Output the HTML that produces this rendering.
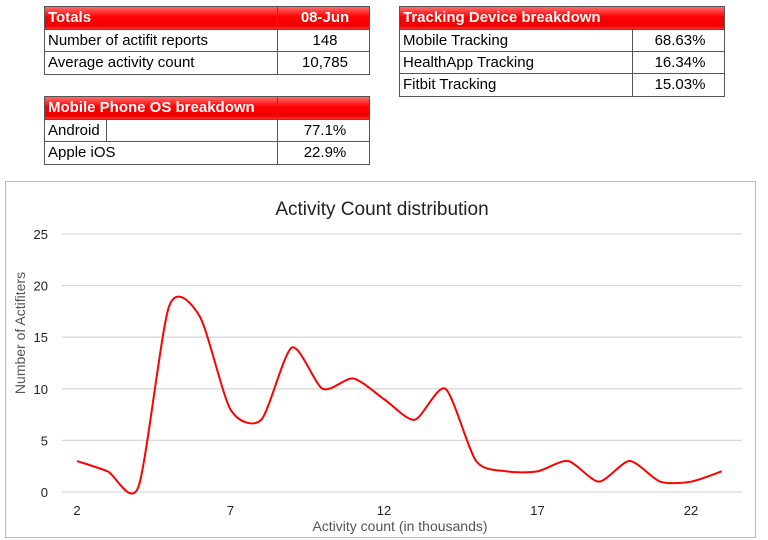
<!DOCTYPE html>
<html><head><meta charset="utf-8"><style>
body{margin:0;width:768px;height:540px;background:#fff;font-family:"Liberation Sans",sans-serif;position:relative;overflow:hidden}
.t{position:absolute;border:1px solid #555;border-collapse:collapse}
.r{position:absolute;left:0;right:0;height:22px;border-top:1px solid #555;font-size:15px;line-height:22px}
.h{background:linear-gradient(#ff6a6a,#f00 45%,#e00 85%,#ff3030);color:#fff;font-weight:bold;border-top:none}
.c{position:absolute;top:0;bottom:0;padding-left:3px;white-space:nowrap}
.v{text-align:center}
</style></head><body>
<div class="t" style="left:44px;top:6px;width:324px;height:67px">
 <div class="r h" style="top:0"><div class="c" style="left:0;width:229px">Totals</div><div class="c v" style="left:232px;right:0;border-left:1px solid #555">08-Jun</div></div>
 <div class="r" style="top:22px"><div class="c" style="left:0">Number of actifit reports</div><div class="c v" style="left:232px;right:0;border-left:1px solid #555">148</div></div>
 <div class="r" style="top:44px"><div class="c" style="left:0">Average activity count</div><div class="c v" style="left:232px;right:0;border-left:1px solid #555">10,785</div></div>
</div>
<div class="t" style="left:44px;top:96px;width:324px;height:67px">
 <div class="r h" style="top:0"><div class="c" style="left:0">Mobile Phone OS breakdown</div><div class="c" style="left:232px;right:0;border-left:1px solid #555"></div></div>
 <div class="r" style="top:22px"><div class="c" style="left:0;width:58px;border-right:1px solid #555">Android</div><div class="c v" style="left:232px;right:0;border-left:1px solid #555">77.1%</div></div>
 <div class="r" style="top:44px"><div class="c" style="left:0">Apple iOS</div><div class="c v" style="left:232px;right:0;border-left:1px solid #555">22.9%</div></div>
</div>
<div class="t" style="left:399px;top:6px;width:324px;height:89px">
 <div class="r h" style="top:0"><div class="c" style="left:0">Tracking Device breakdown</div></div>
 <div class="r" style="top:22px"><div class="c" style="left:0">Mobile Tracking</div><div class="c v" style="left:232px;right:0;border-left:1px solid #555">68.63%</div></div>
 <div class="r" style="top:44px"><div class="c" style="left:0">HealthApp Tracking</div><div class="c v" style="left:232px;right:0;border-left:1px solid #555">16.34%</div></div>
 <div class="r" style="top:66px"><div class="c" style="left:0">Fitbit Tracking</div><div class="c v" style="left:232px;right:0;border-left:1px solid #555">15.03%</div></div>
</div>
<svg id="chart" style="position:absolute;left:0;top:0" width="768" height="540"></svg>
<script>
const xValues=[2,3,4,5,6,7,8,9,10,11,12,13,14,15,16,17,18,19,20,21,22,23];
const yValues=[3,2,0.5,18,17,8,7,14,10,11,9,7,10,3,2,2,3,1,3,1,1,2];
const xTicks=[2,7,12,17,22];
const yTicks=[0,5,10,15,20,25];
const NS="http://www.w3.org/2000/svg";
const svg=document.getElementById('chart');
const X=v=>77+(v-2)*30.7;
const Y=v=>492-v*10.32;
function mk(t,a,txt){const e=document.createElementNS(NS,t);for(const k in a)e.setAttribute(k,a[k]);if(txt!==undefined)e.textContent=txt;svg.appendChild(e);return e;}
const box=mk('rect',{x:5.5,y:181.5,width:750,height:356,fill:'#fff',stroke:'#bbb'});


const title=mk('text',{x:382,y:215,'text-anchor':'middle','font-size':19,fill:'#222','font-family':'Liberation Sans, sans-serif'},'Activity Count distribution');


yTicks.forEach(v=>{
 const g=mk('line',{x1:62,x2:742,y1:Y(v),y2:Y(v),stroke:'#d9d9d9','stroke-width':1.3});
 
 
 const t=mk('text',{x:48,y:Y(v)+5,'text-anchor':'end','font-size':13,fill:'#222','font-family':'Liberation Sans, sans-serif'},v);
 
 
});
xTicks.forEach(v=>{
 const t=mk('text',{x:X(v),y:515,'text-anchor':'middle','font-size':13,fill:'#222','font-family':'Liberation Sans, sans-serif'},v);
 
 
});
const xt=mk('text',{x:400,y:531,'text-anchor':'middle','font-size':14,fill:'#555','font-family':'Liberation Sans, sans-serif'},'Activity count (in thousands)');


const yt=mk('text',{x:0,y:0,transform:'translate(25,333) rotate(-90)','text-anchor':'middle','font-size':14,fill:'#555','font-family':'Liberation Sans, sans-serif'},'Number of Actifiters');


const pts=xValues.map((x,i)=>[X(x),Y(yValues[i])]);
let d='M'+pts[0][0]+','+pts[0][1];
const k=8;
for(let i=0;i<pts.length-1;i++){
 const p0=pts[Math.max(0,i-1)],p1=pts[i],p2=pts[i+1],p3=pts[Math.min(pts.length-1,i+2)];
 const c1=[p1[0]+(p2[0]-p0[0])/k,p1[1]+(p2[1]-p0[1])/k];
 const c2=[p2[0]-(p3[0]-p1[0])/k,p2[1]-(p3[1]-p1[1])/k];
 d+=` C${c1[0]},${c1[1]} ${c2[0]},${c2[1]} ${p2[0]},${p2[1]}`;
}
const line=mk('path',{d:d,fill:'none',stroke:'#f00','stroke-width':2});


</script>
</body></html>
